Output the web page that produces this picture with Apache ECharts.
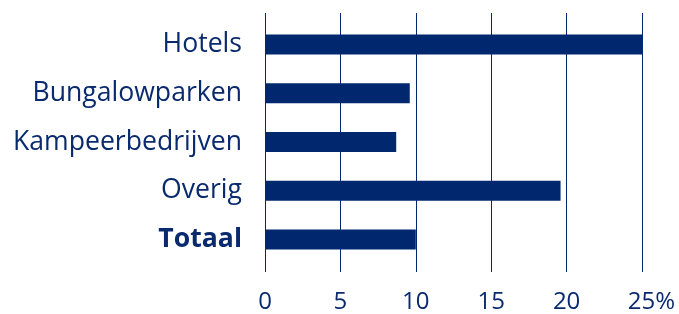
<!DOCTYPE html>
<html>
<head>
<meta charset="utf-8">
<script src="https://cdn.jsdelivr.net/npm/echarts@6/dist/echarts.min.js"></script>
<style>
  html, body { margin: 0; padding: 0; background: #fff; }
  #main { width: 679px; height: 314px; }
</style>
</head>
<body>
<div id="main"></div>
<script>
// categorieen (van boven naar beneden)
var categories = ['Hotels', 'Bungalowparken', 'Kampeerbedrijven', 'Overig', 'Totaal'];
// aandeel in procenten
var values = [25.0, 9.6, 8.7, 19.6, 10.0];
// as
var xMin = 0;
var xMax = 25;
var xStep = 5;

var blauw = '#01286f';
var tekst = '#0a2a6e';

var myChart = echarts.init(document.getElementById('main'));

var option = {
    animation: false,
    textStyle: { fontFamily: '"Open Sans", sans-serif' },
    grid: [
        // grid met de verticale lijnen
        { left: 265, right: 37, top: 13, bottom: 42 },
        // grid met de staven
        { left: 265, right: 37, top: 20, bottom: 50 }
    ],
    xAxis: [{
        gridIndex: 0,
        type: 'value',
        min: xMin,
        max: xMax,
        interval: xStep,
        axisLine: { show: false },
        axisTick: { show: false },
        splitLine: { show: true, lineStyle: { color: blauw, width: 1 } },
        axisLabel: {
            margin: 18,
            fontSize: 24,
            color: tekst,
            fontFamily: '"Open Sans", sans-serif',
            formatter: function (v) {
                if (v === xMax) return '{last|' + v + '%}';
                return String(v);
            },
            rich: {
                last: {
                    fontSize: 24,
                    color: tekst,
                    fontFamily: '"Open Sans", sans-serif',
                    padding: [0, 0, 0, 19]
                }
            }
        }
    }, {
        gridIndex: 1,
        type: 'value',
        min: xMin,
        max: xMax,
        interval: xStep,
        show: false
    }],
    yAxis: [{
        gridIndex: 0,
        type: 'value',
        show: false
    }, {
        gridIndex: 1,
        type: 'category',
        inverse: true,
        data: categories,
        axisLine: { show: false },
        axisTick: { show: false },
        axisLabel: {
            margin: 23,
            fontSize: 26.6,
            color: tekst,
            fontFamily: '"Open Sans", sans-serif',
            formatter: function (v) {
                if (v === 'Totaal') return '{b|' + v + '}';
                return v;
            },
            rich: {
                b: {
                    fontSize: 26.6,
                    fontWeight: 'bold',
                    color: tekst,
                    fontFamily: '"Open Sans", sans-serif'
                }
            }
        }
    }],
    series: [{
        type: 'bar',
        xAxisIndex: 1,
        yAxisIndex: 1,
        data: values,
        barWidth: 20,
        itemStyle: { color: blauw },
        silent: true
    }]
};

myChart.setOption(option);
</script>
</body>
</html>
